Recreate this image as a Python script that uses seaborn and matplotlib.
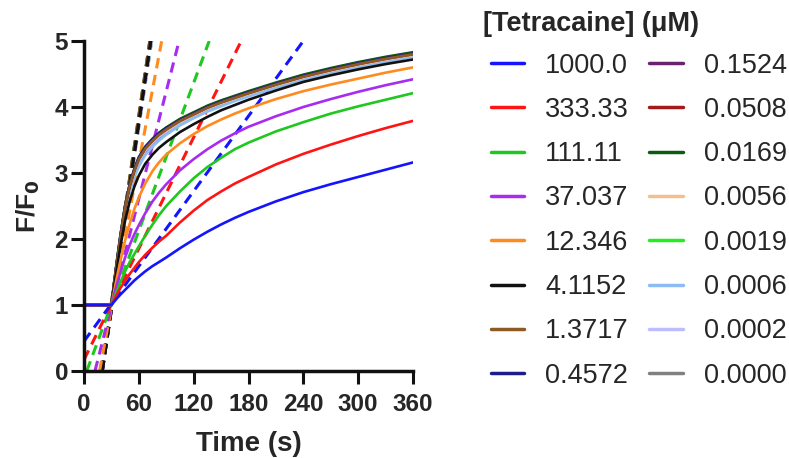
import numpy as np
import pandas as pd
import matplotlib
matplotlib.use("Agg")
import matplotlib.pyplot as plt
import seaborn as sns
from matplotlib.lines import Line2D

# concentrations (uM) and colours, legend order
conc = ["1000.0", "333.33", "111.11", "37.037", "12.346", "4.1152", "1.3717", "0.4572",
        "0.1524", "0.0508", "0.0169", "0.0056", "0.0019", "0.0006", "0.0002", "0.0000"]
colors = ["#1414ff", "#ff1414", "#1ec81e", "#a82cf0", "#ff8a1e", "#111111", "#8c5a22", "#1c1c8c",
          "#6c226c", "#a41a1a", "#0e5a12", "#f2c08c", "#22ee22", "#8cbcf2", "#bcbcff", "#808080"]

# fitted curves (F/F0 vs time)
t_fit = [0, 30, 33, 36, 40, 45, 50, 55, 60, 67, 75, 82, 90, 105, 120, 135, 150, 165, 180,
         210, 240, 270, 300, 330, 360]
y_1000 = [1, 1, 1.05, 1.10, 1.16, 1.23, 1.30, 1.37, 1.43, 1.51, 1.59, 1.65, 1.72, 1.86, 1.99,
          2.11, 2.22, 2.32, 2.41, 2.57, 2.71, 2.83, 2.94, 3.05, 3.16]
y_333 = [1, 1, 1.08, 1.16, 1.26, 1.37, 1.47, 1.56, 1.65, 1.76, 1.87, 1.96, 2.05, 2.25, 2.43,
         2.59, 2.72, 2.84, 2.94, 3.13, 3.29, 3.43, 3.56, 3.68, 3.79]
y_111 = [1, 1, 1.11, 1.21, 1.35, 1.51, 1.65, 1.77, 1.89, 2.05, 2.22, 2.36, 2.50, 2.72, 2.92,
         3.09, 3.23, 3.36, 3.46, 3.63, 3.77, 3.90, 4.01, 4.11, 4.21]
y_37 = [1, 1, 1.16, 1.31, 1.50, 1.72, 1.91, 2.07, 2.21, 2.39, 2.57, 2.70, 2.83, 3.04, 3.21,
        3.36, 3.49, 3.60, 3.70, 3.86, 4.00, 4.12, 4.23, 4.33, 4.42]
y_12 = [1, 1, 1.21, 1.42, 1.68, 1.98, 2.23, 2.45, 2.63, 2.84, 3.03, 3.16, 3.28, 3.45, 3.59,
        3.71, 3.81, 3.90, 3.98, 4.12, 4.24, 4.34, 4.43, 4.52, 4.60]
y_4 = [1, 1, 1.28, 1.55, 1.90, 2.28, 2.57, 2.79, 2.96, 3.14, 3.28, 3.38, 3.47, 3.62, 3.74,
       3.85, 3.95, 4.03, 4.11, 4.25, 4.38, 4.48, 4.57, 4.65, 4.72]
y_1p3 = [1, 1, 1.32, 1.64, 2.04, 2.48, 2.80, 3.03, 3.21, 3.37, 3.49, 3.58, 3.66, 3.79, 3.89,
         3.99, 4.07, 4.14, 4.21, 4.34, 4.46, 4.56, 4.65, 4.73, 4.80]
y_0p45 = [1, 1, 1.33, 1.66, 2.06, 2.50, 2.82, 3.05, 3.23, 3.39, 3.51, 3.60, 3.68, 3.80, 3.90,
          4.00, 4.08, 4.15, 4.22, 4.35, 4.47, 4.57, 4.66, 4.74, 4.81]
y_0p15 = [1, 1, 1.33, 1.65, 2.05, 2.49, 2.81, 3.04, 3.22, 3.38, 3.50, 3.59, 3.67, 3.80, 3.90,
          4.00, 4.08, 4.15, 4.22, 4.35, 4.47, 4.57, 4.66, 4.74, 4.81]
y_0p05 = [1, 1, 1.32, 1.64, 2.04, 2.48, 2.80, 3.03, 3.21, 3.37, 3.49, 3.58, 3.66, 3.79, 3.89,
          3.99, 4.07, 4.14, 4.21, 4.34, 4.46, 4.56, 4.65, 4.73, 4.80]
y_0p017 = [1, 1, 1.34, 1.67, 2.07, 2.51, 2.83, 3.06, 3.24, 3.40, 3.52, 3.61, 3.69, 3.82, 3.92,
           4.02, 4.10, 4.17, 4.24, 4.37, 4.49, 4.59, 4.68, 4.76, 4.83]
y_0p0056 = [1, 1, 1.32, 1.63, 2.03, 2.47, 2.79, 3.02, 3.20, 3.36, 3.48, 3.57, 3.65, 3.78, 3.88,
            3.98, 4.06, 4.13, 4.20, 4.33, 4.45, 4.55, 4.64, 4.72, 4.79]
y_0p0019 = [1, 1, 1.33, 1.66, 2.06, 2.50, 2.82, 3.05, 3.23, 3.39, 3.51, 3.60, 3.68, 3.81, 3.91,
            4.01, 4.09, 4.16, 4.23, 4.36, 4.48, 4.58, 4.67, 4.75, 4.82]
y_0p0006 = [1, 1, 1.30, 1.60, 1.98, 2.40, 2.71, 2.93, 3.10, 3.27, 3.40, 3.49, 3.58, 3.72, 3.83,
            3.93, 4.01, 4.09, 4.16, 4.29, 4.41, 4.51, 4.60, 4.68, 4.76]
y_0p0002 = [1, 1, 1.31, 1.62, 2.02, 2.45, 2.77, 3.00, 3.18, 3.34, 3.46, 3.55, 3.63, 3.76, 3.87,
            3.97, 4.05, 4.12, 4.19, 4.32, 4.44, 4.54, 4.63, 4.71, 4.78]
y_0 = [1, 1, 1.30, 1.61, 2.00, 2.43, 2.74, 2.96, 3.14, 3.30, 3.43, 3.52, 3.61, 3.74, 3.85,
       3.95, 4.03, 4.11, 4.18, 4.31, 4.43, 4.53, 4.62, 4.70, 4.77]
fits = [y_1000, y_333, y_111, y_37, y_12, y_4, y_1p3, y_0p45, y_0p15, y_0p05,
        y_0p017, y_0p0056, y_0p0019, y_0p0006, y_0p0002, y_0]

# initial-slope lines: start (t0, y0) to end (t1, 5)
dash_t0 = [0, 0, 3, 12, 17, 20, 19, 20, 20, 20, 19, 20, 20, 20, 20, 20]
dash_y0 = [0.45, 0.17, 0, 0, 0, 0, 0, 0, 0, 0, 0, 0, 0, 0, 0, 0]
dash_t1 = [240, 172, 137, 104, 85, 73, 72, 73, 73, 73, 72, 73, 73, 74, 73, 74]

rows = []
drows = []
for c, ys, a, b, e in zip(conc, fits, dash_t0, dash_y0, dash_t1):
    for t, y in zip(t_fit, ys):
        rows.append((c, t, y))
    drows.append((c, a, b))
    drows.append((c, e, 5.0))
df = pd.DataFrame(rows, columns=["conc", "time", "ratio"])
dfd = pd.DataFrame(drows, columns=["conc", "time", "ratio"])
pal = dict(zip(conc, colors))
draw_order = conc[::-1]  # high concentrations drawn on top

sns.set_style("ticks")
plt.rcParams["font.family"] = ["Liberation Sans", "DejaVu Sans"]

fig = plt.figure(figsize=(7.89, 4.58), dpi=100)
ax = fig.add_axes([84 / 789, 87 / 458, 329 / 789, 330 / 458])

sns.lineplot(data=dfd, x="time", y="ratio", hue="conc", hue_order=draw_order, palette=pal,
             ax=ax, legend=False, linewidth=2.2, dashes=False, linestyle=(0, (3.4, 2.2)),
             estimator=None, sort=False)
sns.lineplot(data=df, x="time", y="ratio", hue="conc", hue_order=draw_order, palette=pal,
             ax=ax, legend=False, linewidth=1.9, estimator=None, sort=False)

ax.set_xlim(0, 360)
ax.set_ylim(0, 5)
ax.set_xticks(range(0, 361, 60))
ax.set_yticks(range(0, 6))
for s in ["top", "right"]:
    ax.spines[s].set_visible(False)
for s in ["left", "bottom"]:
    ax.spines[s].set_linewidth(2.5)
    ax.spines[s].set_color("#111111")
ax.tick_params(width=2.2, length=9.5, color="#111111", labelsize=17.5)
ax.tick_params(axis="x", pad=6)
ax.tick_params(axis="y", pad=2)
for lab in ax.get_xticklabels() + ax.get_yticklabels():
    lab.set_fontweight("bold")
ax.set_xlabel("Time (s)", fontsize=20, fontweight="bold", labelpad=11)
ax.set_ylabel("F/F$_\\mathbf{0}$", fontsize=19, fontweight="bold", labelpad=9)

handles = [Line2D([], [], color=c, lw=2.5) for c in colors]
fig.legend(handles, conc, ncol=2, loc="upper left", bbox_to_anchor=(477 / 789, 1 - 39 / 458),
           frameon=False, fontsize=19.5, handlelength=1.25, handletextpad=0.76,
           columnspacing=0.75, labelspacing=0.676, borderpad=0)
fig.text(483 / 789, 1 - 24 / 458, "[Tetracaine] (\u03bcM)", fontsize=19.5, fontweight="bold",
         ha="left", va="center")

fig.savefig("out.png", dpi=100)
